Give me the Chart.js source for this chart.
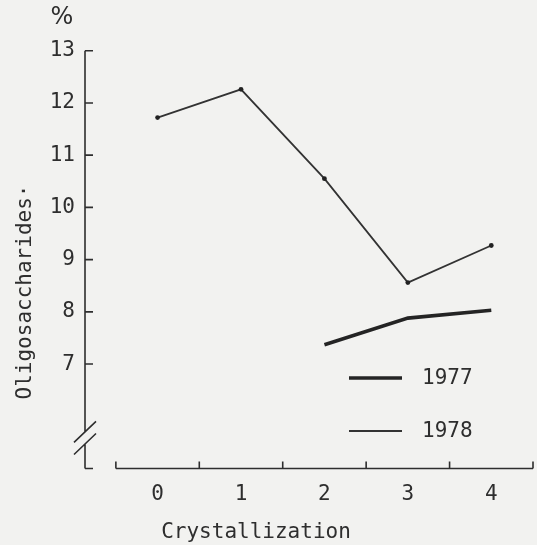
<!DOCTYPE html>
<html>
<head>
<meta charset="utf-8">
<title>Oligosaccharides</title>
<script src="https://cdn.jsdelivr.net/npm/chart.js@4.4.1/dist/chart.umd.min.js"></script>
<style>
    body { margin: 0; background: #f2f2f0; }
    canvas { display: block; }
</style>
</head>
<body>
<canvas id="oligoChart" width="537" height="545"></canvas>
<script>
const crystallizations = [0, 1, 2, 3, 4];
const xTickLabels = ['0', '1', '2', '3', '4'];
const yTickValues = [7, 8, 9, 10, 11, 12, 13];
const oligo1977 = [null, null, 7.37, 7.88, 8.03];
const oligo1978 = [11.72, 12.26, 10.55, 8.56, 9.27];
const seriesLabels = ['1977', '1978'];

const inkColor = '#2e2e2e';
const monoFont = "'DejaVu Sans Mono', monospace";

// hand-drawn look: inward ticks, broken y axis, x axis set apart from the y axis
const paperAxes = {
    id: 'paperAxes',
    afterDraw(chart) {
        const c = chart.ctx;
        const x = chart.scales.x;
        const y = chart.scales.y;
        const left = chart.chartArea.left;
        const bottom = chart.chartArea.bottom;

        c.save();
        c.strokeStyle = inkColor;
        c.lineWidth = 1.6;

        const breakTop = y.getPixelForValue(5.7);
        const breakBottom = y.getPixelForValue(5.47);
        c.beginPath();
        c.moveTo(left, y.getPixelForValue(y.max));
        c.lineTo(left, breakTop);
        c.moveTo(left, breakBottom);
        c.lineTo(left, bottom);
        yTickValues.concat([y.min]).forEach(v => {
            const py = y.getPixelForValue(v);
            c.moveTo(left, py);
            c.lineTo(left + 8, py);
        });
        [breakTop, breakBottom].forEach(py => {
            c.moveTo(left - 11, py + 10.5);
            c.lineTo(left + 11, py - 10.5);
        });

        const xStart = x.getPixelForValue(crystallizations[0] - 0.5);
        const xEnd = x.getPixelForValue(crystallizations[crystallizations.length - 1] + 0.5);
        c.moveTo(xStart, bottom);
        c.lineTo(xEnd, bottom);
        crystallizations.concat([crystallizations.length]).forEach(v => {
            const px = x.getPixelForValue(v - 0.5);
            c.moveTo(px, bottom);
            c.lineTo(px, bottom - 7);
        });
        c.stroke();

        // legend
        c.fillStyle = inkColor;
        c.font = '21px ' + monoFont;
        c.textBaseline = 'middle';
        c.textAlign = 'left';
        const legendRows = [378, 431];
        chart.data.datasets.forEach((ds, i) => {
            c.beginPath();
            c.lineWidth = ds.borderWidth;
            c.strokeStyle = ds.borderColor;
            c.moveTo(349, legendRows[i]);
            c.lineTo(402, legendRows[i]);
            c.stroke();
            c.fillText(ds.label, 422, legendRows[i] + 1);
        });

        // unit and axis titles
        c.font = '24px "DejaVu Sans", sans-serif';
        c.textAlign = 'center';
        c.fillText('%', 62, 18);

        c.font = '21px ' + monoFont;
        c.textBaseline = 'alphabetic';
        c.fillText('Crystallization', 256, 538);

        c.translate(31, 292);
        c.rotate(-Math.PI / 2);
        c.fillText('Oligosaccharides\u00b7', 0, 0);
        c.restore();
    }
};

function drawChart() {
    const ctx = document.getElementById('oligoChart').getContext('2d');

    const myChart = new Chart(ctx, {
        type: 'line',
        data: {
            datasets: [{
                label: seriesLabels[0],
                data: crystallizations.map((c, i) => ({ x: c, y: oligo1977[i] })),
                borderColor: '#242424',
                borderWidth: 3.6,
                pointRadius: 0,
            }, {
                label: seriesLabels[1],
                data: crystallizations.map((c, i) => ({ x: c, y: oligo1978[i] })),
                borderColor: '#333333',
                borderWidth: 1.8,
                pointRadius: 2.4,
                pointBorderWidth: 0,
                pointBackgroundColor: '#222222',
            }],
        },
        options: {
            responsive: false,
            animation: false,
            layout: {
                padding: { top: 50.7, right: 2, left: 0, bottom: 0 }
            },
            plugins: {
                legend: { display: false },
                tooltip: { enabled: false },
            },
            scales: {
                x: {
                    type: 'linear',
                    position: 'bottom',
                    min: -0.87,
                    max: 4.5,
                    grid: { display: false, drawTicks: false },
                    border: { display: false },
                    afterBuildTicks: scale => {
                        scale.ticks = crystallizations.map(v => ({ value: v }));
                    },
                    afterFit: scale => { scale.height = 76.5; },
                    ticks: {
                        padding: 13,
                        color: inkColor,
                        font: { family: monoFont, size: 21 },
                        callback: (v, i) => xTickLabels[i],
                    },
                },
                y: {
                    type: 'linear',
                    position: 'left',
                    min: 5,
                    max: 13,
                    grid: { display: false, drawTicks: false },
                    border: { display: false },
                    afterBuildTicks: scale => {
                        scale.ticks = yTickValues.map(v => ({ value: v }));
                    },
                    afterFit: scale => { scale.width = 85; },
                    ticks: {
                        padding: 10,
                        color: inkColor,
                        font: { family: monoFont, size: 21 },
                    },
                }
            }
        },
        plugins: [paperAxes]
    });
}

drawChart();
</script>
</body>
</html>
